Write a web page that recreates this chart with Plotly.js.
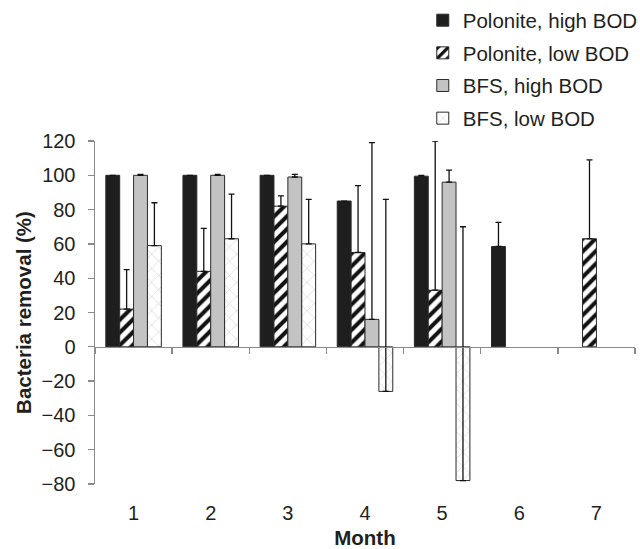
<!DOCTYPE html>
<html><head><meta charset="utf-8">
<script src="https://cdn.plot.ly/plotly-3.0.1.min.js"></script>
<style>html,body{margin:0;padding:0;background:#fff;}#chart{width:640px;height:549px;}</style>
</head><body><div id="chart"></div>
<script>
const months = [1, 2, 3, 4, 5, 6, 7];
const monthLabels = ['1', '2', '3', '4', '5', '6', '7'];
const seriesNames = ['Polonite, high BOD', 'Polonite, low BOD', 'BFS, high BOD', 'BFS, low BOD'];
const polHigh    = [100, 100, 100, 85, 99.5, 58.5, null];
const polHighErr = [0, 0, 0, 0, 0.5, 14, 0];
const polLow     = [22, 44, 82, 55, 33, null, 63];
const polLowErr  = [23, 25, 6, 39, 87, 0, 46];
const bfsHigh    = [100, 100, 99, 16, 96, null, null];
const bfsHighErr = [0.5, 0.5, 1.5, 103, 7, 0, 0];
const bfsLow     = [59, 63, 60, -26, -78, null, null];
const bfsLowErr  = [25, 26, 26, 112, 148, 0, 0];
const yTicks = [-80, -60, -40, -20, 0, 20, 40, 60, 80, 100, 120];
const boundaryTicks = [0.5, 1.5, 2.5, 3.5, 4.5, 5.5, 6.5, 7.5];

const font = 'Liberation Sans, Arial, sans-serif';
const txt = '#231f20';
const axisGray = '#8a8a8a';

function err(arr) {
  return {type: 'data', array: arr, arrayminus: arr.map(() => 0), symmetric: false,
          color: '#111', thickness: 1.3, width: 3};
}
const lineStyle = {color: '#2a2a2a', width: 1};

const traces = [
  {type: 'bar', name: seriesNames[0], x: months, y: polHigh, error_y: err(polHighErr),
   marker: {color: '#1e1e1e', line: lineStyle}, legendgroup: 'a'},
  {type: 'bar', name: seriesNames[1], x: months, y: polLow, error_y: err(polLowErr),
   marker: {color: '#ffffff', line: lineStyle,
            pattern: {shape: '/', fgcolor: '#111', bgcolor: '#ffffff', size: 9, solidity: 0.45}}, legendgroup: 'b'},
  {type: 'bar', name: seriesNames[2], x: months, y: bfsHigh, error_y: err(bfsHighErr),
   marker: {color: '#c3c3c3', line: lineStyle}, legendgroup: 'c'},
  {type: 'bar', name: seriesNames[3], x: months, y: bfsLow, error_y: err(bfsLowErr),
   marker: {color: '#ffffff', line: lineStyle,
            pattern: {shape: 'x', fgcolor: '#cfcfcf', bgcolor: '#ffffff', size: 10, solidity: 0.12}}, legendgroup: 'd'},
  {type: 'scatter', x: [], y: [], xaxis: 'x2', showlegend: false, hoverinfo: 'skip'}
];

const layout = {
  width: 640, height: 549,
  margin: {l: 95, r: 5, t: 141, b: 65, autoexpand: false},
  paper_bgcolor: '#fff', plot_bgcolor: '#fff',
  barmode: 'group', bargap: 0.28, bargroupgap: 0,
  font: {family: font, color: txt, size: 19},
  showlegend: true,
  legend: {x: 0.607, y: 1.41, xanchor: 'left', yanchor: 'top', traceorder: 'grouped',
           tracegroupgap: 3, font: {family: font, size: 20.5, color: txt},
           bgcolor: 'rgba(0,0,0,0)', itemwidth: 30},
  xaxis: {range: [0.5, 7.5], tickvals: months, ticktext: monthLabels,
          showline: false, showgrid: false, zeroline: false,
          ticks: 'outside', ticklen: 11, tickcolor: 'rgba(0,0,0,0)',
          tickfont: {family: font, size: 20, color: txt},
          title: {text: '<b>Month</b>', font: {family: font, size: 20.5, color: txt}, standoff: 8}},
  xaxis2: {overlaying: 'x', anchor: 'free', position: 0.4, range: [0.5, 7.5],
           tickvals: boundaryTicks, showticklabels: false, ticks: 'outside', ticklen: 6,
           tickcolor: axisGray, tickwidth: 1.3, showline: true, linecolor: axisGray, linewidth: 1.5,
           showgrid: false, zeroline: false, side: 'bottom'},
  yaxis: {range: [-80, 120], tickvals: yTicks, showgrid: false, zeroline: false,
          showline: true, linecolor: axisGray, linewidth: 1.5,
          ticks: 'outside', ticklen: 6, tickcolor: axisGray, tickwidth: 1.3,
          ticklabelstandoff: 8,
          tickfont: {family: font, size: 20, color: txt},
          title: {text: '<b>Bacteria removal (%)</b>', font: {family: font, size: 20.5, color: txt}, standoff: 4}}
};

Plotly.newPlot('chart', traces, layout, {displayModeBar: false, staticPlot: true});
</script></body></html>
